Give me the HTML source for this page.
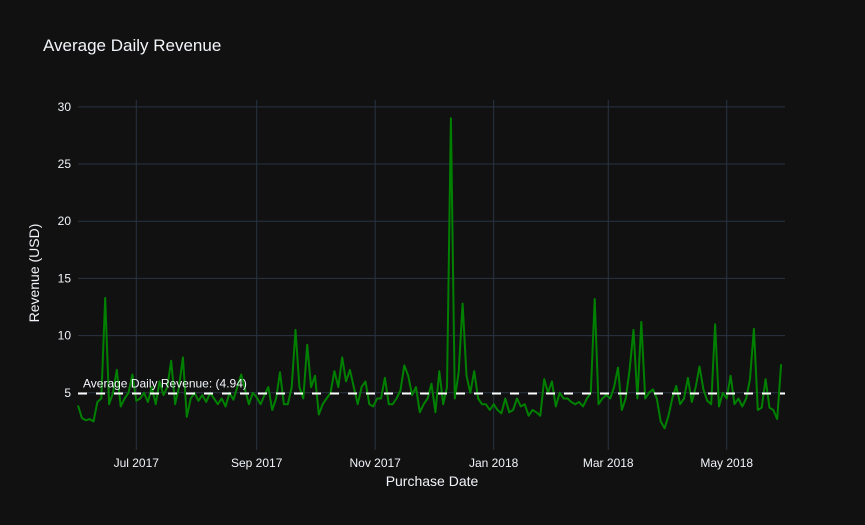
<!DOCTYPE html>
<html><head><meta charset="utf-8"><style>
body{margin:0;background:#111111;}
svg{display:block;font-family:"Liberation Sans",sans-serif;}
</style></head><body>
<svg id="chart" width="865" height="525">
<rect width="865" height="525" fill="#111111"/>
<text x="43" y="51" fill="#f2f5fa" font-size="17">Average Daily Revenue</text>
<g id="grid"></g><g id="xticks"></g><g id="yticks"></g><g id="series"></g>
<text x="432" y="486" fill="#f2f5fa" font-size="14" text-anchor="middle">Purchase Date</text>
<text transform="translate(39,273) rotate(-90)" fill="#f2f5fa" font-size="14" text-anchor="middle">Revenue (USD)</text>
</svg>
<script>
const startDate = "2017-06-01";
const values = [3.9,2.8,2.6,2.7,2.5,4.2,4.5,13.3,4.0,5.0,7.0,3.8,4.5,5.0,6.6,4.3,4.5,5.0,4.2,5.5,4.0,6.0,4.8,5.5,7.8,4.0,5.5,8.1,2.9,4.5,5.0,4.3,4.8,4.2,5.0,4.5,4.0,4.5,3.8,5.0,4.4,5.5,6.6,5.3,4.0,5.0,4.6,4.0,4.8,5.5,3.5,4.5,6.8,4.0,4.0,5.5,10.5,5.5,4.5,9.2,5.5,6.5,3.1,4.0,4.5,5.0,6.9,5.5,8.1,6.0,7.0,5.5,4.0,5.5,6.0,4.0,3.8,4.5,4.5,6.3,4.0,4.0,4.5,5.2,7.4,6.5,4.8,5.5,3.3,4.0,4.5,5.8,3.3,6.9,4.0,5.5,29.0,4.5,6.8,12.8,6.5,5.0,6.9,4.5,4.0,4.0,3.5,4.0,3.5,3.2,4.5,3.3,3.5,4.5,3.8,4.0,3.0,3.5,3.3,3.0,6.2,5.0,6.0,3.8,5.0,4.5,4.5,4.2,4.0,4.2,3.8,4.5,5.0,13.2,4.0,4.5,4.8,4.5,5.5,7.2,3.5,4.5,7.0,10.5,4.5,11.2,4.5,5.0,5.3,4.5,2.5,1.9,3.0,4.5,5.6,4.0,4.5,6.3,4.2,5.5,7.3,5.3,4.3,4.0,11.0,3.8,5.0,4.5,6.5,4.0,4.5,3.8,4.5,6.2,10.6,3.5,3.7,6.2,3.7,3.5,2.7,7.5];
const dayStep = 2;
const average = 4.94;
const yTicks = [5,10,15,20,25,30];
const xTickDates = ["2017-07-01","2017-09-01","2017-11-01","2018-01-01","2018-03-01","2018-05-01"];
const xTickLabels = ["Jul 2017","Sep 2017","Nov 2017","Jan 2018","Mar 2018","May 2018"];

const NS="http://www.w3.org/2000/svg";
const L=78,R=785,T=100,B=450;
const x0=Date.parse("2017-06-01"), x1=Date.parse("2018-05-31");
const yMin=0.0, yMax=30.6;
const xs=t=>L+(t-x0)/(x1-x0)*(R-L);
const ys=v=>B-(v-yMin)/(yMax-yMin)*(B-T);
function mk(tag,attrs,parent){const e=document.createElementNS(NS,tag);for(const k in attrs)e.setAttribute(k,attrs[k]);parent.appendChild(e);return e;}
const grid=document.getElementById('grid'),xt=document.getElementById('xticks'),yt=document.getElementById('yticks'),se=document.getElementById('series');
yTicks.forEach(v=>{
  const l=mk('line',{x1:L,x2:R,y1:ys(v),y2:ys(v),stroke:'#283442','stroke-width':1},grid);
  
  
  const t=mk('text',{x:L-7,y:ys(v)+4,fill:'#f2f5fa','font-size':12,'text-anchor':'end'},yt);
  t.textContent=v;
  
  
});
xTickDates.forEach((d,i)=>{
  const x=xs(Date.parse(d));
  const l=mk('line',{x1:x,x2:x,y1:T,y2:B,stroke:'#283442','stroke-width':1},grid);
  
  
  const t=mk('text',{x:x,y:B+17,fill:'#f2f5fa','font-size':12,'text-anchor':'middle'},xt);
  t.textContent=xTickLabels[i];
  
  
});
const s0=Date.parse(startDate);
const pts=values.map((v,i)=>xs(s0+i*dayStep*86400000).toFixed(1)+','+ys(v).toFixed(1)).join(' ');
const line=mk('polyline',{points:pts,fill:'none',stroke:'#008000','stroke-width':2,'stroke-linejoin':'round'},se);


const avg=mk('line',{x1:L,x2:R,y1:ys(average),y2:ys(average),stroke:'#ffffff','stroke-width':2,'stroke-dasharray':'9,9'},se);


const at=mk('text',{x:L+5,y:ys(average)-6,fill:'#f2f5fa','font-size':12},se);
at.textContent='Average Daily Revenue: ('+average.toFixed(2)+')';


</script>
</body></html>
